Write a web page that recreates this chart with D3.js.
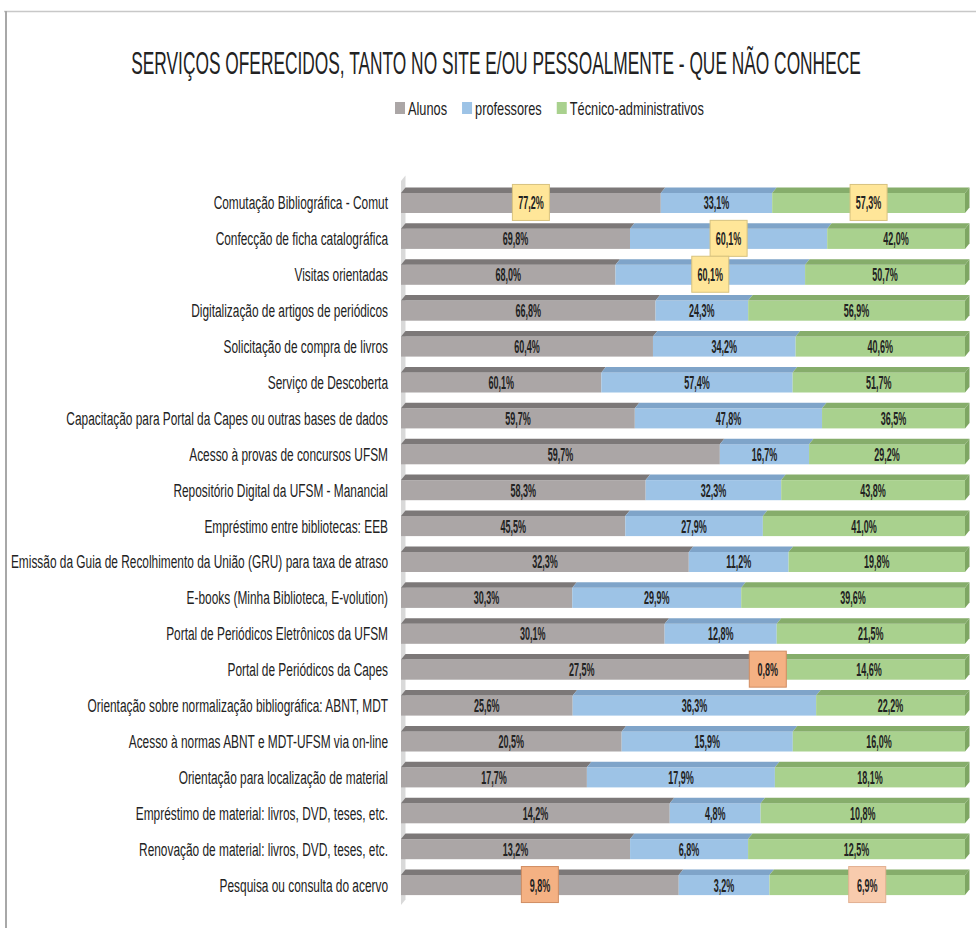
<!DOCTYPE html>
<html>
<head>
<meta charset="utf-8">
<script src="https://cdn.jsdelivr.net/npm/d3@7"></script>
<style>
  body { margin: 0; background: #fff; }
  text { font-family: "Liberation Sans", Arial, sans-serif; fill: #222; }
</style>
</head>
<body>
<svg id="chart" width="976" height="928"></svg>
<script>
var categories = [
  "Comutação Bibliográfica - Comut",
  "Confecção de ficha catalográfica",
  "Visitas orientadas",
  "Digitalização de artigos de periódicos",
  "Solicitação de compra de livros",
  "Serviço de Descoberta",
  "Capacitação para Portal da Capes ou outras bases de dados",
  "Acesso à provas de concursos UFSM",
  "Repositório Digital da UFSM - Manancial",
  "Empréstimo entre bibliotecas: EEB",
  "Emissão da Guia de Recolhimento da União (GRU) para taxa de atraso",
  "E-books (Minha Biblioteca, E-volution)",
  "Portal de Periódicos Eletrônicos da UFSM",
  "Portal de Periódicos da Capes",
  "Orientação sobre normalização bibliográfica: ABNT, MDT",
  "Acesso à normas ABNT e MDT-UFSM via on-line",
  "Orientação para localização de material",
  "Empréstimo de material: livros, DVD, teses, etc.",
  "Renovação de material: livros, DVD, teses, etc.",
  "Pesquisa ou consulta do acervo"
];
var alunos      = [77.2, 69.8, 68.0, 66.8, 60.4, 60.1, 59.7, 59.7, 58.3, 45.5, 32.3, 30.3, 30.1, 27.5, 25.6, 20.5, 17.7, 14.2, 13.2, 9.8];
var professores = [33.1, 60.1, 60.1, 24.3, 34.2, 57.4, 47.8, 16.7, 32.3, 27.9, 11.2, 29.9, 12.8, 0.8, 36.3, 15.9, 17.9, 4.8, 6.8, 3.2];
var tecnicos    = [57.3, 42.0, 50.7, 56.9, 40.6, 51.7, 36.5, 29.2, 43.8, 41.0, 19.8, 39.6, 21.5, 14.6, 22.2, 16.0, 18.1, 10.8, 12.5, 6.9];
var seriesNames = ["Alunos", "professores", "Técnico-administrativos"];
var title = "SERVIÇOS OFERECIDOS, TANTO NO SITE E/OU PESSOALMENTE - QUE NÃO CONHECE";
// flagged labels: [row, series, kind]
var flagged = [[0, 0, "max"], [0, 2, "max"], [1, 1, "max"], [2, 1, "max"], [13, 1, "min"], [19, 0, "min"], [19, 2, "low"]];

var front = ["#aba6a6", "#9dc3e6", "#a9d18e"];
var topFace = ["#7c7878", "#7fa4c9", "#86ad6b"];
var sideFace = ["#8a8686", "#86abd0", "#7ea663"];
var flagFill = { max: "#ffe699", min: "#f4b183", low: "#f8cbad" };
var flagStroke = { max: "#d8c27e", min: "#d08d62", low: "#e2b091" };

var svg = d3.select("#chart");

// text drawn at the origin of a translated + horizontally squeezed frame
function squeezedText(parent, px, py, k) {
  return parent.append("text").attr("transform", "translate(" + px + "," + py + ") scale(" + k + ",1)");
}

// frame
svg.append("line").attr("x1", 4).attr("x2", 976).attr("y1", 11.5).attr("y2", 11.5)
  .style("stroke", "#c8c8c8").style("stroke-width", 1.5);
svg.append("line").attr("x1", 6).attr("x2", 6).attr("y1", 11).attr("y2", 928)
  .style("stroke", "#a8a8a8").style("stroke-width", 2);

// title, squeezed to the reference width
var tt = svg.append("text").attr("text-anchor", "middle").style("font-size", "32px").text(title);
var tw = tt.node().getComputedTextLength();
tt.attr("transform", "translate(496,74) scale(" + (730 / tw) + ",1)");

// legend
var lx = 395, kLeg = 0.71;
seriesNames.forEach(function (name, i) {
  svg.append("rect").attr("x", lx).attr("y", 102).attr("width", 10).attr("height", 12)
    .style("fill", front[i]);
  var t = squeezedText(svg, lx + 13, 115, kLeg).style("font-size", "18px").text(name);
  lx += 13 + t.node().getComputedTextLength() * kLeg + 15;
});

var rows = categories.map(function (c, i) {
  var vals = [alunos[i], professores[i], tecnicos[i]];
  var total = d3.sum(vals);
  var acc = 0;
  var segs = vals.map(function (v, s) {
    var seg = { row: i, series: s, value: v, x0: acc / total, x1: (acc + v) / total };
    acc += v;
    return seg;
  });
  return { name: c, segs: segs };
});

var x = d3.scaleLinear().domain([0, 1]).range([401, 965]);
var y = d3.scaleBand().domain(categories).range([185, 903]).paddingInner(0.44).paddingOuter(0.22);
var dx = 4.5, dy = -5.5;
var bw = y.bandwidth();

// side wall
var wallTop = y.range()[0] - 4, wallBot = y.range()[1] + 2;
svg.append("polygon")
  .attr("points", [[x(0), wallTop], [x(0) + dx, wallTop + dy], [x(0) + dx, wallBot + dy], [x(0), wallBot]].join(" "))
  .style("fill", "#d9d9d9");

// category labels
var gl = svg.append("g");
rows.forEach(function (d) {
  squeezedText(gl, 388, y(d.name) + bw / 2 + 6.5, 0.66)
    .attr("text-anchor", "end")
    .style("font-size", "18px")
    .text(d.name);
});

var bars = svg.append("g").selectAll("g").data(rows).enter().append("g");

bars.selectAll("rect.front").data(function (d) { return d.segs; }).enter().append("rect")
  .attr("class", "front")
  .attr("x", function (d) { return x(d.x0); })
  .attr("y", function (d) { return y(categories[d.row]); })
  .attr("width", function (d) { return x(d.x1) - x(d.x0); })
  .attr("height", bw)
  .style("fill", function (d) { return front[d.series]; });

bars.selectAll("polygon.top").data(function (d) { return d.segs; }).enter().append("polygon")
  .attr("class", "top")
  .attr("points", function (d) {
    var yy = y(categories[d.row]);
    return [[x(d.x0), yy], [x(d.x0) + dx, yy + dy], [x(d.x1) + dx, yy + dy], [x(d.x1), yy]].join(" ");
  })
  .style("fill", function (d) { return topFace[d.series]; });

bars.append("polygon")
  .attr("points", function (d) {
    var yy = y(d.name), xe = x(1);
    return [[xe, yy], [xe + dx, yy + dy], [xe + dx, yy + bw + dy], [xe, yy + bw]].join(" ");
  })
  .style("fill", sideFace[2]);

// value labels
var flagOf = {};
flagged.forEach(function (f) { flagOf[f[0] + "-" + f[1]] = f[2]; });

var allSegs = [];
rows.forEach(function (r) { allSegs = allSegs.concat(r.segs); });

var vl = svg.append("g").selectAll("g").data(allSegs).enter().append("g")
  .attr("transform", function (d) {
    return "translate(" + ((x(d.x0) + x(d.x1)) / 2) + "," + (y(categories[d.row]) + bw / 2) + ")";
  });

vl.filter(function (d) { return flagOf[d.row + "-" + d.series]; })
  .append("rect")
  .attr("x", -18.5).attr("y", -18.5).attr("width", 37).attr("height", 36)
  .style("fill", function (d) { return flagFill[flagOf[d.row + "-" + d.series]]; })
  .style("stroke", function (d) { return flagStroke[flagOf[d.row + "-" + d.series]]; })
  .style("stroke-width", 1);

vl.each(function (d) {
  squeezedText(d3.select(this), 0, 6.5, 0.5)
    .attr("text-anchor", "middle")
    .style("font-size", "18px").style("font-weight", "bold")
    .text(d3.format(".1f")(d.value).replace(".", ",") + "%");
});
</script>
</body>
</html>
